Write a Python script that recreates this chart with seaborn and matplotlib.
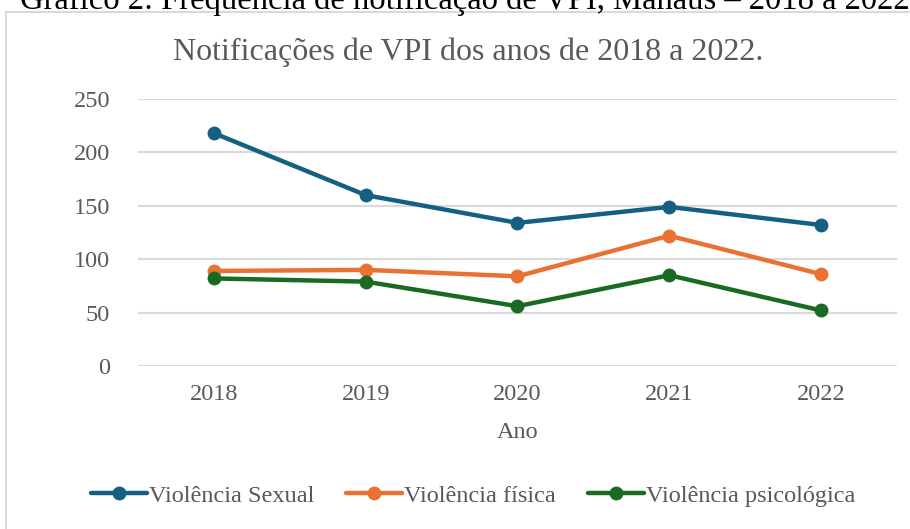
import pandas as pd
import seaborn as sns
import matplotlib.pyplot as plt
from matplotlib.patches import Rectangle

anos = [2018, 2019, 2020, 2021, 2022]
sexual = [218, 160, 134, 149, 132]
fisica = [89, 90, 84, 122, 86]
psicologica = [82, 79, 56, 85, 52]
series = ["Violência Sexual", "Violência física", "Violência psicológica"]
cores = ["#156082", "#E97132", "#196B24"]

df = pd.DataFrame({
    "Ano": anos * 3,
    "Valor": sexual + fisica + psicologica,
    "Tipo": [s for s in series for _ in anos],
})

sns.set_style("white")
plt.rcParams['font.family'] = ['Liberation Serif', 'DejaVu Serif']

fig = plt.figure(figsize=(9.1, 5.29), dpi=100)
ax = fig.add_axes([0.1516, 0.3081, 0.8341, 0.5048])

# moldura do gráfico (cortada na direita e embaixo)
fig.patches.append(Rectangle((6 / 910, -0.05), 1.0, 1 - 12 / 529 + 0.05,
                             transform=fig.transFigure, fill=False,
                             edgecolor="#d9d9d9", linewidth=1.5))

# legenda do documento, cortada no topo
fig.text(0.022, 1 - 9 / 529, "Gráfico 2: Frequência de notificação de VPI, Manaus – 2018 a 2022",
         ha="left", va="baseline", fontsize=23.5, color="black")

sns.lineplot(data=df, x="Ano", y="Valor", hue="Tipo", palette=cores,
             marker="o", markersize=10, markeredgewidth=0, linewidth=3.2,
             ax=ax, legend=False)

ax.set_xlim(2017.5, 2022.5)
ax.set_ylim(0, 250)
ax.set_yticks([0, 50, 100, 150, 200, 250])
ax.set_xticks(anos)
ax.grid(axis="y", color="#d9d9d9", linewidth=1.5)
ax.set_axisbelow(True)
for s in ax.spines.values():
    s.set_visible(False)
ax.tick_params(axis="both", length=0, labelsize=17.5, labelcolor="#595959")
ax.tick_params(axis="y", pad=20)
ax.tick_params(axis="x", pad=13)
ax.set_ylabel("")
ax.set_xlabel("Ano", fontsize=17.5, color="#595959", labelpad=12)

fig.text(0.515, 1 - 52 / 529, "Notificações de VPI dos anos de 2018 a 2022.",
         ha="center", va="center", fontsize=23, color="#595959")

handles = [plt.Line2D([], [], color=c, linewidth=3.2, marker="o", markersize=10,
                      markeredgewidth=0) for c in cores]
fig.legend(handles, series, loc="center", bbox_to_anchor=(0.52, 1 - 496 / 529),
           ncol=3, frameon=False, fontsize=17.5, labelcolor="#595959",
           handlelength=2.3, handletextpad=0.1, columnspacing=1.3)

fig.savefig("out.png", dpi=100)
